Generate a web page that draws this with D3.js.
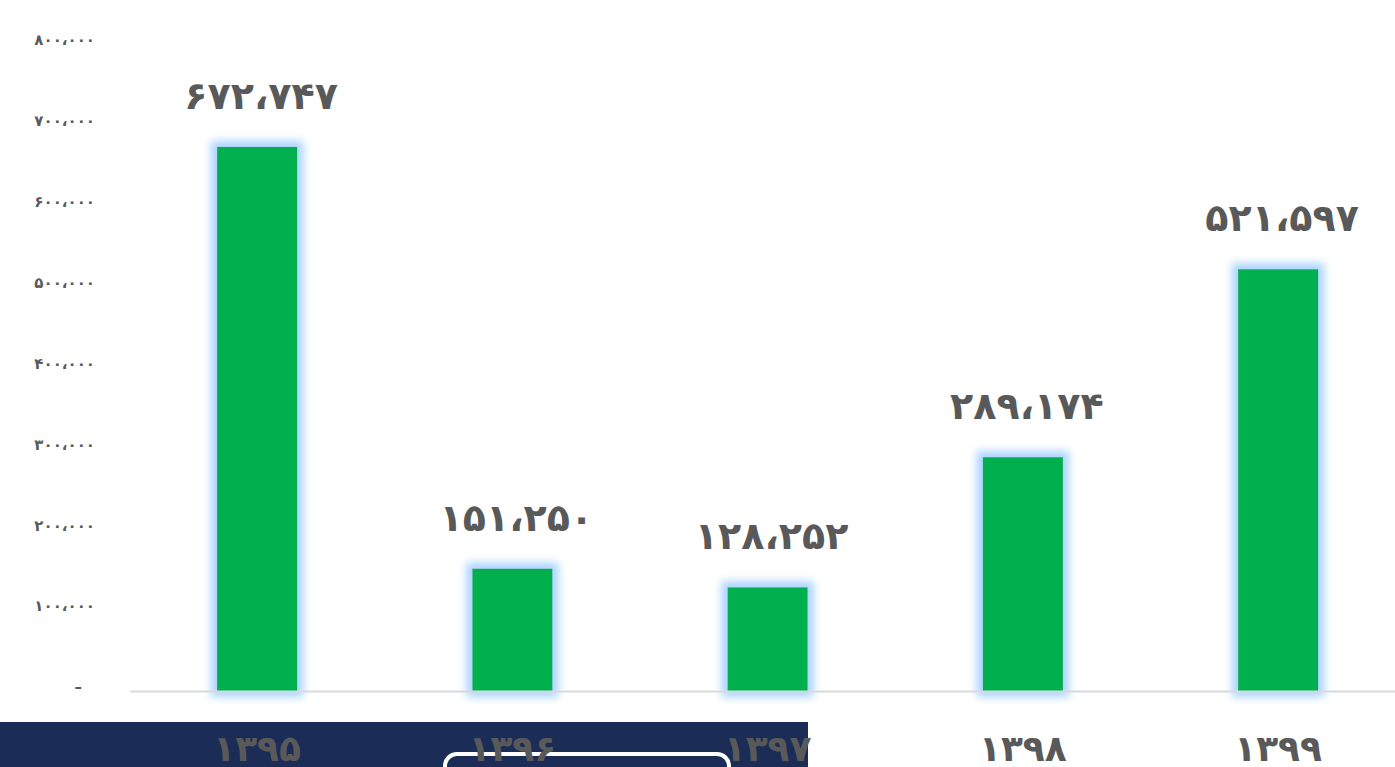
<!DOCTYPE html>
<html>
<head>
<meta charset="utf-8">
<script src="https://cdn.jsdelivr.net/npm/d3@7"></script>
<style>
  html, body { margin: 0; padding: 0; background: #fff; overflow: hidden; }
  text { font-family: "DejaVu Sans", sans-serif; }
</style>
</head>
<body>
<svg id="chart" width="1395" height="767"></svg>
<script>
// years (Persian calendar) and values
var years = ["1395", "1396", "1397", "1398", "1399"];
var values = [672747, 151250, 128252, 289174, 521597];
var yTicks = [0, 100000, 200000, 300000, 400000, 500000, 600000, 700000, 800000];

// latin -> persian digits, thousands sep -> arabic comma
var faDigits = "۰۱۲۳۴۵۶۷۸۹";
function toFa(s) {
  return String(s).replace(/[0-9]/g, function(c) { return faDigits[+c]; }).replace(/,/g, "،");
}
var fmt = d3.format(",");

var svg = d3.select("#chart");

var x = d3.scaleBand().domain(years).range([129.5, 1405.75]).paddingInner(0.686).paddingOuter(0.343);
var y = d3.scaleLinear().domain([0, 800000]).range([691, 44]);

// glow filter for bars
var defs = svg.append("defs");
var f = defs.append("filter").attr("id", "glow")
    .attr("x", "-40%").attr("y", "-40%").attr("width", "180%").attr("height", "180%");
f.append("feMorphology").attr("in", "SourceAlpha").attr("operator", "dilate").attr("radius", 6).attr("result", "d");
f.append("feGaussianBlur").attr("in", "d").attr("stdDeviation", 4).attr("result", "b");
f.append("feFlood").attr("flood-color", "#a9d3ff").attr("flood-opacity", 1);
f.append("feComposite").attr("in2", "b").attr("operator", "in").attr("result", "g");
var m = f.append("feMerge");
m.append("feMergeNode").attr("in", "g");
m.append("feMergeNode").attr("in", "SourceGraphic");

// navy band at the bottom (slide background)
svg.append("rect").attr("x", 0).attr("y", 722).attr("width", 808).attr("height", 50).attr("fill", "#1b2d57");
svg.append("rect").attr("x", 445).attr("y", 754).attr("width", 284).attr("height", 40)
    .attr("rx", 12).attr("fill", "#1b2d57").attr("stroke", "#fff").attr("stroke-width", 4);

// y axis labels
svg.append("g").selectAll("text").data(yTicks).enter().append("text")
    .attr("x", function(d) { return d === 0 ? 82 : 95; })
    .attr("y", function(d) { return y(d) - 4; })
    .attr("dy", "0.35em")
    .attr("text-anchor", "end")
    .attr("font-size", 15)
    .attr("font-weight", "bold")
    .attr("fill", "#595959")
    .text(function(d) { return d === 0 ? "–" : toFa(fmt(d)); });

// bars
svg.append("g").selectAll("rect").data(values).enter().append("rect")
    .attr("x", function(d, i) { return x(years[i]); })
    .attr("y", function(d) { return y(d); })
    .attr("width", x.bandwidth())
    .attr("height", function(d) { return y(0) - y(d); })
    .attr("fill", "#00b050")
    .attr("filter", "url(#glow)");

// baseline
svg.append("line").attr("x1", 130).attr("x2", 1395).attr("y1", 691.5).attr("y2", 691.5)
    .attr("stroke", "#d9d9d9").attr("stroke-width", 2);

// value labels
svg.append("g").selectAll("text").data(values).enter().append("text")
    .attr("x", function(d, i) { return x(years[i]) + x.bandwidth() / 2 + 4; })
    .attr("y", function(d) { return y(d) - 38; })
    .attr("text-anchor", "middle")
    .attr("font-size", 38)
    .attr("font-weight", "bold")
    .attr("fill", "#595959")
    .text(function(d) { return toFa(fmt(d)); });

// x labels
svg.append("g").selectAll("text").data(years).enter().append("text")
    .attr("x", function(d) { return x(d) + x.bandwidth() / 2; })
    .attr("y", 761)
    .attr("text-anchor", "middle")
    .attr("font-size", 36)
    .attr("font-weight", "bold")
    .attr("fill", "#595959")
    .text(function(d) { return toFa(d); });
</script>
</body>
</html>
